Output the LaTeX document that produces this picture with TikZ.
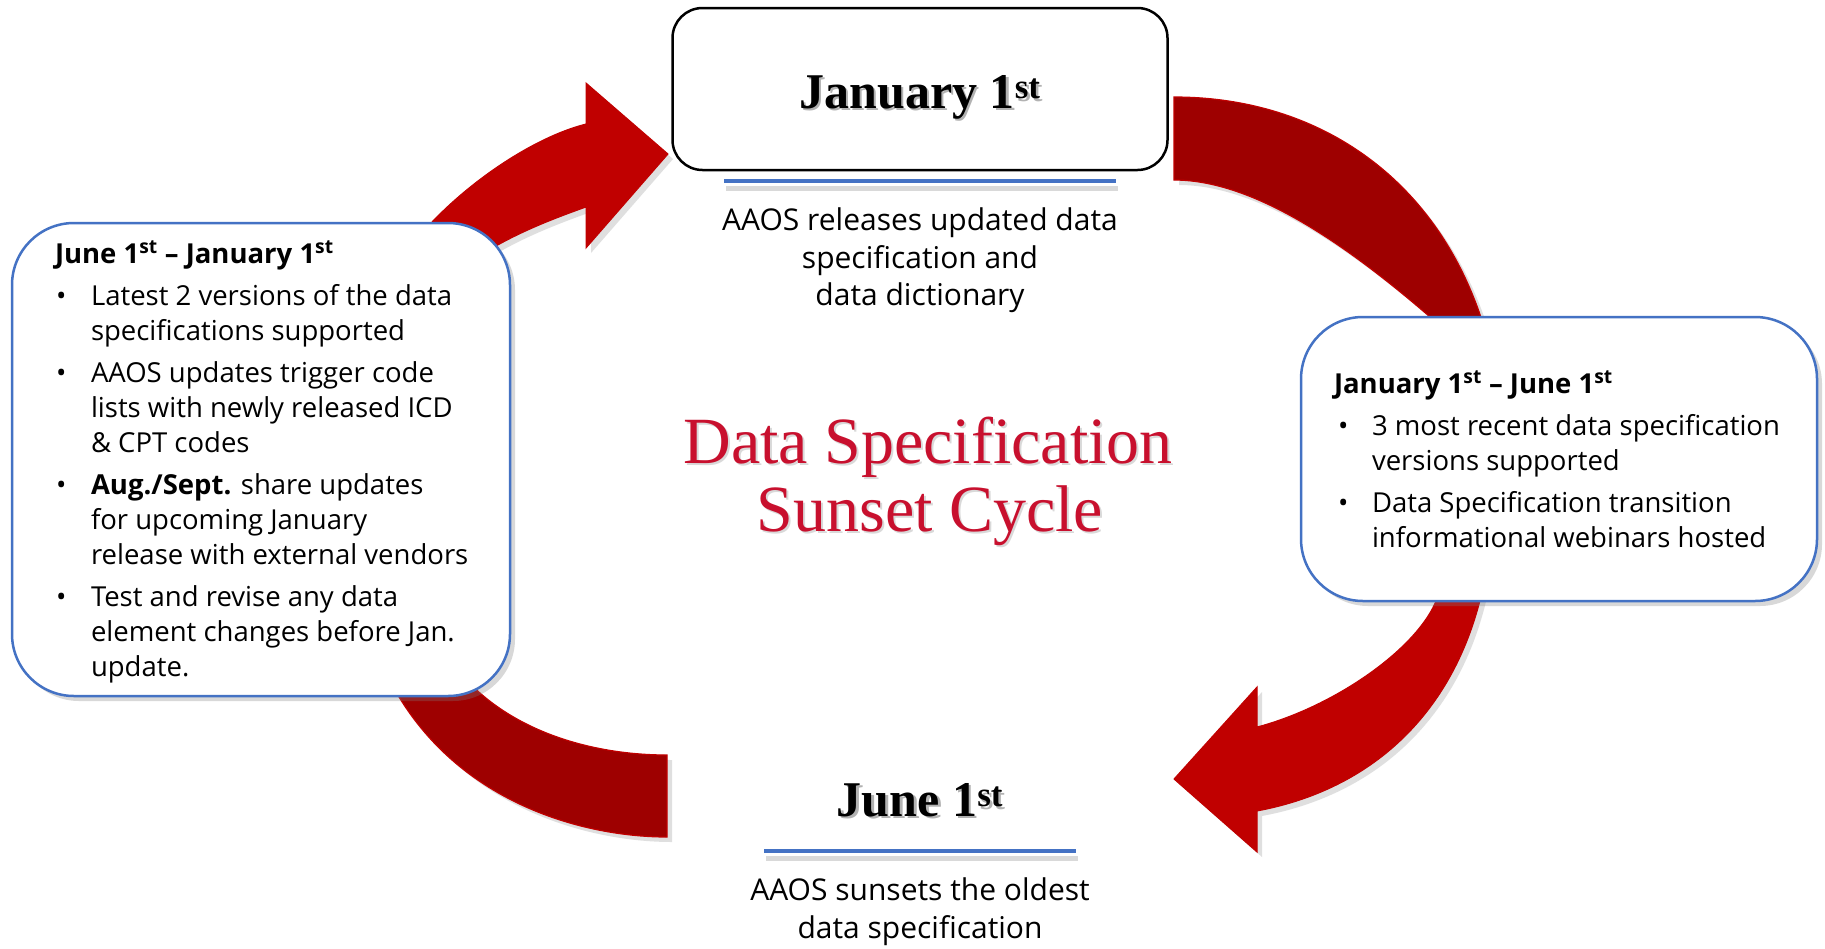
\documentclass[tikz,border=0pt]{standalone}
\usepackage{fontspec}
\setmainfont{Open Sans}
\newfontfamily\serifb{Liberation Serif}
\usetikzlibrary{shadows}
\definecolor{brightred}{RGB}{192,0,0}
\definecolor{darkred}{RGB}{158,0,0}
\definecolor{boxblue}{RGB}{68,114,196}
\definecolor{titlered}{RGB}{200,16,46}
\tikzset{
  every node/.style={inner sep=0pt, outer sep=0pt},
  redband/.style={fill=brightred, draw=brightred, line width=1pt,
    drop shadow={opacity=0.25, shadow xshift=5pt, shadow yshift=-5pt}},
  darkband/.style={fill=darkred, draw=brightred, line width=1.2pt,
    drop shadow={opacity=0.25, shadow xshift=5pt, shadow yshift=-5pt}},
  infobox/.style={draw=boxblue, line width=2.5pt, fill=white, rounded corners=62pt,
    drop shadow={opacity=0.3, shadow xshift=5pt, shadow yshift=-5pt}},
  datebox/.style={draw=black, line width=2.5pt, fill=white, rounded corners=30pt},
  bluerule/.style={draw=boxblue, line width=4.5pt},
  ruleshadow/.style={draw=black!15, line width=5pt},
  body/.style={font=\fontsize{27.5}{35}\selectfont, anchor=base west},
  caption/.style={font=\fontsize{30}{38}\selectfont, anchor=base},
  datehead/.style={font=\serifb\bfseries\fontsize{50}{60}\selectfont, anchor=base},
  titletext/.style={font=\serifb\fontsize{66}{68}\selectfont, anchor=base},
}
\begin{document}
\begin{tikzpicture}[x=1pt, y=-1pt]
\useasboundingbox (0,0) rectangle (1825,948);
\fill[white] (0,0) rectangle (1825,948);

% ---- curved arrows ----
% top-left arrow (to January 1st)
\fill[redband] (412,245) .. controls (455,190) and (530,138) .. (586,124)
  -- (586,83) -- (668,154) -- (586,248) -- (586,207)
  .. controls (550,220) and (510,235) .. (470,262) -- cycle;
% top-right arrow
\fill[darkband] (1174,97) .. controls (1320,97) and (1440,180) .. (1485,330)
  -- (1445,330) .. controls (1360,255) and (1260,180) .. (1174,180) -- cycle;
% bottom-right arrow (to June 1st)
\fill[redband] (1257,811) .. controls (1370,790) and (1455,715) .. (1483,588)
  -- (1440,588) .. controls (1430,640) and (1340,705) .. (1257,727)
  -- (1257,687) -- (1174,779) -- (1257,852) -- cycle;
% bottom-left arrow
\fill[darkband] (667,837) .. controls (580,837) and (440,800) .. (380,660)
  -- (450,660) .. controls (500,730) and (590,755) .. (667,755) -- cycle;

% ---- top date box ----
\node[datebox, minimum width=495pt, minimum height=162pt] (topbox) at (920,89) {};
\node[datehead, text=black!30] (janshadow) at (922.5,110.5) {January 1\textsuperscript{st}};
\node[datehead] (janhead) at (920,108) {January 1\textsuperscript{st}};
\draw[ruleshadow] (726,188) -- (1118,188);
\draw[bluerule] (724,181) -- (1116,181);
\node[caption] (capA) at (920,230) {AAOS releases updated data};
\node[caption] (capB) at (920,268) {specification and};
\node[caption] (capC) at (920,305) {data dictionary};

% ---- title ----
\node[titletext, text=black!15] (t1s) at (930,465) {Data Specification};
\node[titletext, text=black!15] (t2s) at (932,533) {Sunset Cycle};
\node[titletext, text=titlered] (t1) at (928,463) {Data Specification};
\node[titletext, text=titlered] (t2) at (930,531) {Sunset Cycle};

% ---- bottom date ----
\node[datehead, text=black!30] (junshadow) at (922.5,818.5) {June 1\textsuperscript{st}};
\node[datehead] (junhead) at (920,816) {June 1\textsuperscript{st}};
\draw[ruleshadow] (766,858) -- (1078,858);
\draw[bluerule] (764,851) -- (1076,851);
\node[caption] (capD) at (920,900) {AAOS sunsets the oldest};
\node[caption] (capE) at (920,938) {data specification};

% ---- left box ----
\node[infobox, minimum width=498pt, minimum height=473pt] (leftbox) at (261,459.5) {};
\node[body] (lhead) at (55,263) {\bfseries June 1\textsuperscript{st} – January 1\textsuperscript{st}};
\node[body] (lb1) at (56,305) {•};
\node[body] (li1) at (91,305) {\vtop{\hbox{Latest 2 versions of the data}\hbox{specifications supported}}};
\node[body] (lb2) at (56,382) {•};
\node[body] (li2) at (91,382) {\vtop{\hbox{AAOS updates trigger code}\hbox{lists with newly released ICD}\hbox{\& CPT codes}}};
\node[body] (lb3) at (56,494) {•};
\node[body] (li3) at (91,494) {\vtop{\hbox{\textbf{Aug./Sept.} share updates}\hbox{for upcoming January}\hbox{release with external vendors}}};
\node[body] (lb4) at (56,606) {•};
\node[body] (li4) at (91,606) {\vtop{\hbox{Test and revise any data}\hbox{element changes before Jan.}\hbox{update.}}};

% ---- right box ----
\node[infobox, minimum width=516pt, minimum height=284pt] (rightbox) at (1559,459) {};
\node[body] (rhead) at (1334,393) {\bfseries January 1\textsuperscript{st} – June 1\textsuperscript{st}};
\node[body] (rb1) at (1338,435) {•};
\node[body] (ri1) at (1372,435) {\vtop{\hbox{3 most recent data specification}\hbox{versions supported}}};
\node[body] (rb2) at (1338,512) {•};
\node[body] (ri2) at (1372,512) {\vtop{\hbox{Data Specification transition}\hbox{informational webinars hosted}}};
\end{tikzpicture}
\end{document}
